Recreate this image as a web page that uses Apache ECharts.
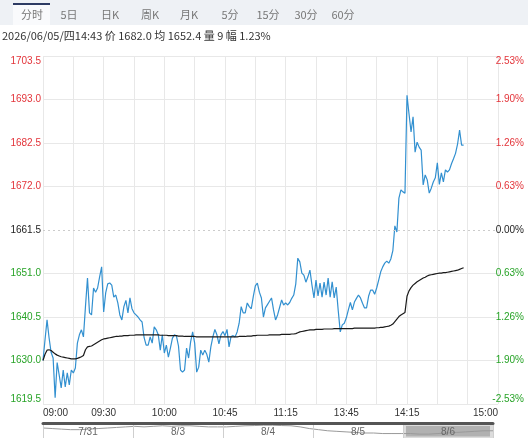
<!DOCTYPE html>
<html>
<head>
<meta charset="utf-8">
<script src="https://cdn.jsdelivr.net/npm/echarts@6/dist/echarts.min.js"></script>
<style>
  html, body { margin: 0; padding: 0; background: #fff; }
  #chart { width: 528px; height: 438px; }
</style>
</head>
<body>
<div id="chart"></div>
<script>
'use strict';

// tabs and header
var tabs = ['分时', '5日', '日K', '周K', '月K', '5分', '15分', '30分', '60分'];
var tabX = [32, 69, 110, 150, 189, 230, 268, 306, 343];
var headerText = '2026/06/05/四14:43 价 1682.0 均 1652.4 量 9 幅 1.23%';

var preClose = 1661.5;

// y ticks
var leftTicks = [1619.5, 1630.0, 1640.5, 1651.0, 1661.5, 1672.0, 1682.5, 1693.0, 1703.5];
var rightTickLabels = ['-2.53%', '1.90%', '1.26%', '0.63%', '0.00%', '0.63%', '1.26%', '1.90%', '2.53%'];

// x ticks (minute index in session)
var xTickIndex = [0, 30, 60, 90, 120, 150, 180, 225];
var xTickLabels = ['09:00', '09:30', '10:00', '10:45', '11:15', '13:45', '14:15', '15:00'];

// trading sessions [start, end] in minutes of day
var sessions = [[540, 615], [630, 690], [810, 900]];

// price per minute, 09:00 .. 14:43
var price = [
    1630.0, 1635.0, 1639.8, 1635.5, 1632.0, 1630.6, 1621.0, 1629.5, 1626.5, 1623.4,
    1627.7, 1623.6, 1627.0, 1624.1, 1627.7, 1627.0, 1628.2, 1634.2, 1636.2, 1637.4,
    1635.7, 1643.0, 1649.9, 1641.5, 1641.0, 1647.5, 1646.5, 1647.5, 1650.2, 1652.6,
    1641.7, 1646.3, 1648.5, 1648.7, 1648.2, 1645.3, 1645.8, 1643.9, 1641.0, 1639.8,
    1643.0, 1644.5, 1641.5, 1645.1, 1642.5, 1641.5, 1641.0, 1640.5, 1639.8, 1639.3,
    1635.5, 1633.7, 1633.7, 1635.7, 1634.2, 1638.1, 1637.4, 1636.2, 1632.5, 1636.2,
    1631.8, 1633.7, 1630.8, 1633.0, 1635.4, 1636.2, 1635.9, 1633.5, 1627.7, 1627.2,
    1627.7, 1633.0, 1630.6, 1634.5, 1636.9, 1634.2, 1627.2, 1628.4, 1632.5, 1631.3,
    1632.5, 1631.5, 1629.6, 1633.3, 1635.7, 1637.5, 1636.2, 1634.0, 1636.2, 1637.0,
    1636.0, 1637.5, 1633.3, 1635.8, 1636.0, 1635.7, 1636.9, 1639.0, 1643.0, 1641.5,
    1641.5, 1643.9, 1643.0, 1642.5, 1645.5, 1648.0, 1648.7, 1646.5, 1645.1, 1640.5,
    1642.7, 1643.5, 1644.3, 1645.1, 1642.2, 1639.8, 1641.0, 1642.8, 1644.6, 1643.4,
    1643.9, 1643.4, 1644.0, 1645.0, 1645.8, 1648.5, 1654.7, 1653.8, 1651.1, 1650.6,
    1648.9, 1650.2, 1651.8, 1648.2, 1645.1, 1649.4, 1645.6, 1648.7, 1645.3, 1648.9,
    1645.8, 1649.9, 1645.3, 1649.0, 1645.1, 1647.7, 1642.0, 1636.9, 1638.6, 1639.0,
    1640.3, 1642.2, 1644.0, 1642.2, 1644.1, 1645.0, 1645.8, 1645.1, 1643.8, 1642.7,
    1642.7, 1645.5, 1647.0, 1647.0, 1646.0, 1647.5, 1649.4, 1651.4, 1652.6, 1653.5,
    1654.0, 1653.5, 1654.5, 1656.5, 1662.5, 1661.0, 1669.2, 1671.2, 1670.7, 1670.4,
    1694.0, 1689.5, 1685.2, 1688.8, 1680.3, 1682.7, 1681.5, 1680.8, 1672.4, 1674.8,
    1673.6, 1670.4, 1671.6, 1673.1, 1674.1, 1677.7, 1672.5, 1675.3, 1673.1, 1676.0,
    1675.5, 1676.0, 1677.5, 1678.7, 1680.0, 1682.2, 1685.6, 1682.0, 1682.0
];

// average price per minute
var avgPrice = [
    1630.0, 1631.5, 1632.5, 1632.6, 1632.4, 1632.0, 1631.6, 1631.3, 1631.1, 1630.9,
    1630.8, 1630.7, 1630.6, 1630.5, 1630.4, 1630.4, 1630.4, 1630.5, 1630.7, 1630.9,
    1631.2, 1632.6, 1633.3, 1633.4, 1633.5, 1633.8, 1634.1, 1634.4, 1634.7, 1635.0,
    1635.2, 1635.3, 1635.4, 1635.5, 1635.6, 1635.7, 1635.8, 1635.8, 1635.9, 1635.9,
    1636.0, 1636.0, 1636.0, 1636.1, 1636.1, 1636.1, 1636.2, 1636.2, 1636.2, 1636.2,
    1636.2, 1636.2, 1636.2, 1636.2, 1636.2, 1636.2, 1636.2, 1636.2, 1636.1, 1636.1,
    1636.1, 1636.1, 1636.0, 1636.0, 1636.0, 1636.0, 1636.0, 1635.9, 1635.9, 1635.9,
    1635.8, 1635.8, 1635.8, 1635.8, 1635.8, 1635.8, 1635.7, 1635.7, 1635.7, 1635.7,
    1635.7, 1635.7, 1635.7, 1635.7, 1635.7, 1635.7, 1635.7, 1635.7, 1635.7, 1635.7,
    1635.7, 1635.7, 1635.7, 1635.7, 1635.7, 1635.7, 1635.7, 1635.8, 1635.8, 1635.8,
    1635.8, 1635.9, 1635.9, 1635.9, 1636.0, 1636.0, 1636.1, 1636.1, 1636.1, 1636.1,
    1636.1, 1636.1, 1636.2, 1636.2, 1636.2, 1636.2, 1636.2, 1636.2, 1636.3, 1636.3,
    1636.3, 1636.3, 1636.3, 1636.4, 1636.4, 1636.5, 1636.7, 1636.9, 1637.0, 1637.1,
    1637.2, 1637.3, 1637.4, 1637.4, 1637.4, 1637.5, 1637.5, 1637.5, 1637.5, 1637.6,
    1637.6, 1637.6, 1637.6, 1637.6, 1637.7, 1637.7, 1637.7, 1637.7, 1637.7, 1637.7,
    1637.7, 1637.7, 1637.7, 1637.7, 1637.8, 1637.8, 1637.8, 1637.8, 1637.8, 1637.8,
    1637.8, 1637.8, 1637.8, 1637.8, 1637.8, 1637.9, 1637.9, 1638.0, 1638.0, 1638.1,
    1638.2, 1638.3, 1638.5, 1638.8, 1639.4, 1640.0, 1640.6, 1641.0, 1641.3, 1641.6,
    1645.5, 1646.8, 1647.6, 1648.2, 1648.6, 1649.0, 1649.3, 1649.6, 1649.9, 1650.1,
    1650.4, 1650.6, 1650.7, 1650.8, 1650.9, 1651.0, 1651.1, 1651.1, 1651.2, 1651.2,
    1651.3, 1651.4, 1651.5, 1651.6, 1651.7, 1651.8, 1652.0, 1652.2, 1652.4
];

// navigator: days and overview line (10 points per day)
var navDays = ['7/31', '8/3', '8/4', '8/5', '8/6'];
var navLine = [
    1690, 1685, 1680, 1675, 1675, 1680, 1685, 1690, 1695, 1700,
    1705, 1700, 1705, 1710, 1705, 1710, 1710, 1705, 1700, 1700,
    1700, 1705, 1710, 1712, 1715, 1715, 1712, 1710, 1700, 1685,
    1675, 1665, 1660, 1655, 1650, 1645, 1645, 1640, 1640, 1640,
    1640, 1635, 1635, 1640, 1645, 1650, 1655, 1660, 1665, 1665
];
var navSelected = [null, null, null, null, 1735];

function pad(n) { return (n < 10 ? '0' : '') + n; }

// minute categories
var minutes = [];
sessions.forEach(function (s, k) {
    for (var m = (k === 0 ? s[0] : s[0] + 1); m <= s[1]; m++) {
        minutes.push(pad(Math.floor(m / 60)) + ':' + pad(m % 60));
    }
});

var navIndex = navLine.map(function (v, i) { return i; });

var RED = '#e3343a', GREEN = '#27a327', BLACK = '#222';
function tickColor(value) {
    var v = Number(value);
    if (Math.abs(v - preClose) < 0.01) return BLACK;
    return v > preClose ? RED : GREEN;
}

var numFont = 'Liberation Sans, Arial, sans-serif';
var cjkFont = 'Noto Sans CJK SC, sans-serif';

var graphics = [
    { type: 'rect', left: 0, top: 0, shape: { width: 528, height: 25 }, style: { fill: '#eef1f5' }, silent: true },
    { type: 'rect', left: 13, top: 3, shape: { width: 37, height: 22 }, style: { fill: '#f9fafc' }, silent: true },
    { type: 'rect', left: 13, top: 3, shape: { width: 37, height: 2 }, style: { fill: '#2d3b63' }, silent: true },
    {
        type: 'text', left: 2, top: 30,
        style: { text: headerText, fill: '#333', font: '11px ' + cjkFont }, silent: true
    }
];
tabs.forEach(function (t, i) {
    graphics.push({
        type: 'text', x: tabX[i], y: 15,
        style: { text: t, fill: '#777', font: '11px ' + cjkFont, align: 'center', verticalAlign: 'middle' },
        silent: true
    });
});

var splitColors = leftTicks.map(function (v) {
    return Math.abs(v - preClose) < 0.01 ? 'rgba(0,0,0,0)' : '#e8e8e8';
});

var chart = echarts.init(document.getElementById('chart'));
var option = {
    animation: false,
    backgroundColor: '#fff',
    graphic: graphics,
    grid: [
        { left: 43, right: 30, top: 56, height: 348 },
        { left: 43, width: 450, top: 423, height: 24 }
    ],
    xAxis: [
        {
            type: 'category',
            gridIndex: 0,
            data: minutes,
            boundaryGap: false,
            axisLine: { show: false },
            axisTick: { show: false },
            axisLabel: {
                color: '#333',
                fontSize: 10,
                fontFamily: numFont,
                margin: 4,
                interval: function (i) { return xTickIndex.indexOf(i) >= 0; },
                formatter: function (v, i) {
                    var k = xTickIndex.indexOf(i);
                    return k >= 0 ? xTickLabels[k] : '';
                },
                alignMinLabel: 'left',
                alignMaxLabel: 'right'
            },
            splitLine: {
                show: true,
                interval: function (i) { return i % 15 === 0; },
                lineStyle: { color: '#e8e8e8', width: 1 }
            }
        },
        {
            type: 'category',
            gridIndex: 1,
            data: navIndex,
            boundaryGap: false,
            show: false
        },
        {
            type: 'category',
            gridIndex: 1,
            data: navDays,
            position: 'top',
            boundaryGap: true,
            z: 10,
            axisLine: { show: true, lineStyle: { color: '#555', width: 3 } },
            axisTick: { show: false },
            axisLabel: { inside: true, color: '#666', fontSize: 10, fontFamily: numFont, margin: 4, verticalAlign: 'top' },
            splitLine: { show: true, lineStyle: { color: '#cfcfcf', width: 1 } }
        }
    ],
    yAxis: [
        {
            type: 'value',
            gridIndex: 0,
            min: leftTicks[0],
            max: leftTicks[leftTicks.length - 1],
            interval: 10.5,
            axisLine: { show: false },
            axisTick: { show: false },
            axisLabel: {
                fontSize: 10,
                fontFamily: numFont,
                margin: 2,
                color: tickColor,
                formatter: function (v) { return Number(v).toFixed(1); },
                verticalAlignMinLabel: 'bottom',
                verticalAlignMaxLabel: 'top'
            },
            splitLine: { show: true, lineStyle: { color: splitColors, width: 1 } }
        },
        {
            type: 'value',
            gridIndex: 0,
            position: 'right',
            min: leftTicks[0],
            max: leftTicks[leftTicks.length - 1],
            interval: 10.5,
            axisLine: { show: false },
            axisTick: { show: false },
            splitLine: { show: false },
            axisLabel: {
                fontSize: 10,
                fontFamily: numFont,
                margin: 26,
                align: 'right',
                color: tickColor,
                formatter: function (v, i) {
                    var k = leftTicks.findIndex(function (t) { return Math.abs(t - v) < 0.01; });
                    return k >= 0 ? rightTickLabels[k] : '';
                },
                verticalAlignMinLabel: 'bottom',
                verticalAlignMaxLabel: 'top'
            }
        },
        {
            type: 'value',
            gridIndex: 1,
            min: 1600,
            max: 1735,
            show: false
        }
    ],
    series: [
        {
            name: '价',
            type: 'line',
            xAxisIndex: 0,
            yAxisIndex: 0,
            data: price,
            showSymbol: false,
            symbol: 'none',
            lineStyle: { color: '#3290d0', width: 1.2 },
            markLine: {
                silent: true,
                symbol: 'none',
                label: { show: false },
                lineStyle: { color: '#cccccc', type: [2, 3], width: 1 },
                data: [{ yAxis: preClose }]
            }
        },
        {
            name: '均',
            type: 'line',
            xAxisIndex: 0,
            yAxisIndex: 0,
            data: avgPrice,
            showSymbol: false,
            symbol: 'none',
            lineStyle: { color: '#1a1a1a', width: 1.2 }
        },
        {
            type: 'line',
            xAxisIndex: 1,
            yAxisIndex: 2,
            data: navLine,
            showSymbol: false,
            symbol: 'none',
            lineStyle: { color: '#9a9a9a', width: 1 }
        },
        {
            type: 'bar',
            xAxisIndex: 2,
            yAxisIndex: 2,
            data: navSelected,
            barWidth: '100%',
            itemStyle: { color: 'rgba(125,125,125,0.6)', borderColor: '#dcdcdc', borderWidth: 3 }
        }
    ]
};
chart.setOption(option);
window.onresize = function () {
    chart.resize();
};
</script>
</body>
</html>
